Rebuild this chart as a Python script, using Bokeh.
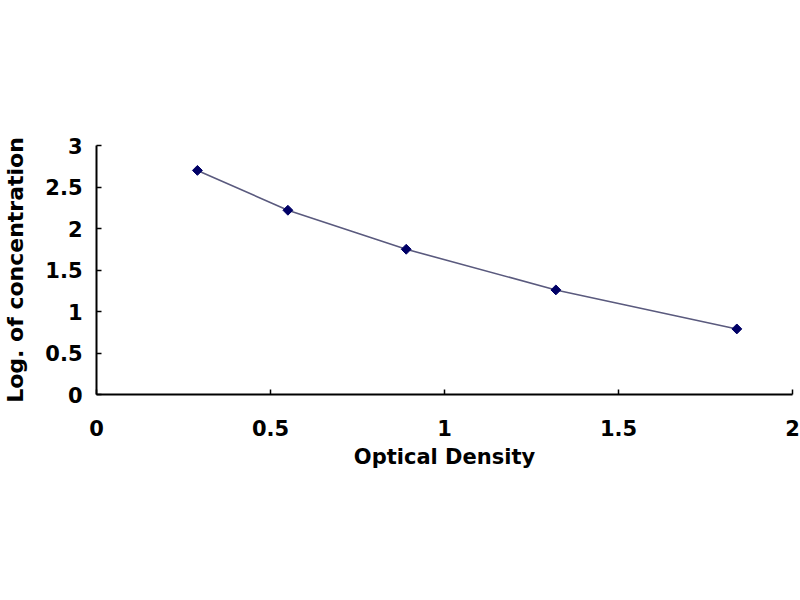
import math

from bokeh.embed import file_html
from bokeh.models import ColumnDataSource, FixedTicker, Range1d
from bokeh.plotting import figure
from bokeh.resources import INLINE

# standard curve
optical_density = [0.29, 0.55, 0.89, 1.32, 1.84]
log_concentration = [2.70, 2.22, 1.75, 1.26, 0.79]

x_ticks = [0, 0.5, 1, 1.5, 2]
x_tick_labels = ["0", "0.5", "1", "1.5", "2"]
y_ticks = [0, 0.5, 1, 1.5, 2, 2.5, 3]
y_tick_labels = ["0", "0.5", "1", "1.5", "2", "2.5", "3"]

FONT = "DejaVu Sans"

src = ColumnDataSource(dict(x=optical_density, y=log_concentration))

p = figure(
    width=800,
    height=498,
    output_backend="svg",
    toolbar_location=None,
    x_range=Range1d(0, 2),
    y_range=Range1d(0, 3),
    min_border_left=96,
    min_border_right=8,
    min_border_top=145,
    min_border_bottom=104,
)
p.outline_line_color = None
p.grid.visible = False
p.background_fill_color = "white"
p.border_fill_color = "white"

# fitted curve + standard points (diamond = square turned 45 deg)
p.line("x", "y", source=src, line_color="#5a5a7e", line_width=1.6)
p.scatter("x", "y", source=src, marker="square", angle=math.pi / 4, size=7,
          fill_color="#000066", line_color="#000066")

for ax, ticks, labels in (
    (p.xaxis[0], x_ticks, x_tick_labels),
    (p.yaxis[0], y_ticks, y_tick_labels),
):
    ax.ticker = FixedTicker(ticks=ticks)
    ax.major_label_overrides = {t: lab for t, lab in zip(ticks, labels)}
    ax.minor_tick_line_color = None
    ax.major_tick_in = 5
    ax.major_tick_out = 0
    ax.axis_line_width = 2
    ax.axis_line_color = "black"
    ax.major_tick_line_color = "black"
    ax.major_tick_line_width = 1.5
    ax.major_label_text_font = FONT
    ax.major_label_text_font_style = "bold"
    ax.major_label_text_font_size = "21px"
    ax.major_label_text_color = "black"
    ax.axis_label_text_font = FONT
    ax.axis_label_text_font_style = "bold"
    ax.axis_label_text_font_size = "21px"
    ax.axis_label_text_color = "black"

p.xaxis.axis_label = "Optical Density"
p.xaxis.major_label_standoff = 25
p.xaxis.axis_label_standoff = 6

p.yaxis.axis_label = "Log. of concentration"
p.yaxis.axis_label_text_font_size = "22px"
p.yaxis.major_label_standoff = 14
p.yaxis.axis_label_standoff = 14

open("out.html", "w").write(file_html(p, INLINE))
